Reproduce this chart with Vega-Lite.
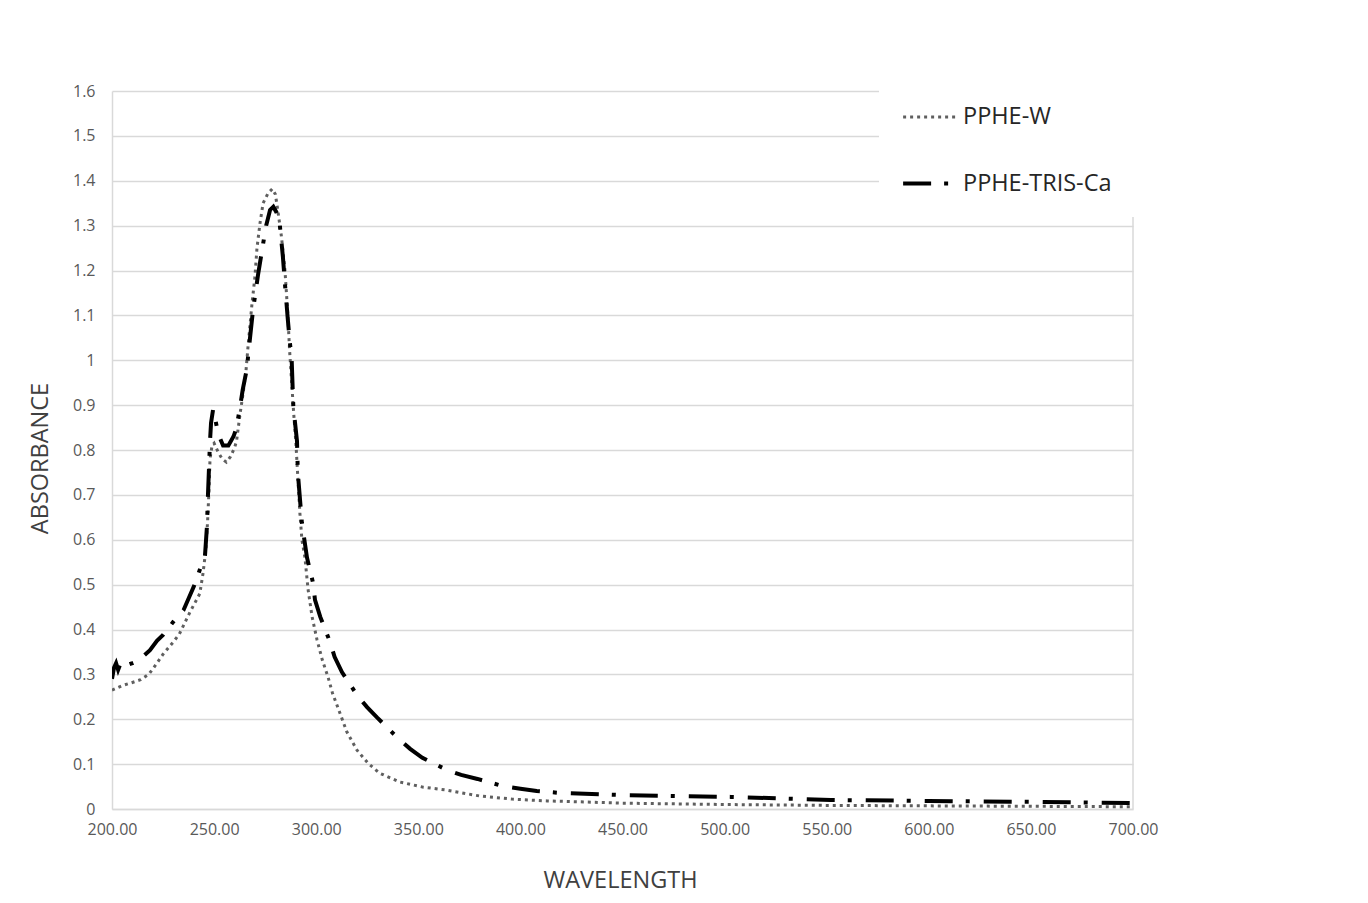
{
  "$schema": "https://vega.github.io/schema/vega-lite/v6.json",
  "width": 1021,
  "height": 718,
  "autosize": "none",
  "padding": {"left": 112, "top": 91, "right": 235, "bottom": 94},
  "background": "white",
  "config": {"font": "Open Sans", "view": {"stroke": null}},
  "datasets": {
    "spectra": [
      {"series": "PPHE-W", "wl": 200, "abs": 0.265},
      {"series": "PPHE-W", "wl": 205, "abs": 0.275},
      {"series": "PPHE-W", "wl": 210, "abs": 0.282},
      {"series": "PPHE-W", "wl": 214, "abs": 0.288},
      {"series": "PPHE-W", "wl": 218, "abs": 0.3},
      {"series": "PPHE-W", "wl": 222, "abs": 0.325},
      {"series": "PPHE-W", "wl": 225, "abs": 0.345},
      {"series": "PPHE-W", "wl": 230, "abs": 0.372},
      {"series": "PPHE-W", "wl": 233, "abs": 0.39},
      {"series": "PPHE-W", "wl": 238, "abs": 0.437},
      {"series": "PPHE-W", "wl": 243, "abs": 0.48},
      {"series": "PPHE-W", "wl": 244.6, "abs": 0.526},
      {"series": "PPHE-W", "wl": 246, "abs": 0.58},
      {"series": "PPHE-W", "wl": 246.8, "abs": 0.64},
      {"series": "PPHE-W", "wl": 247.5, "abs": 0.71},
      {"series": "PPHE-W", "wl": 248, "abs": 0.78},
      {"series": "PPHE-W", "wl": 249, "abs": 0.81},
      {"series": "PPHE-W", "wl": 250, "abs": 0.815},
      {"series": "PPHE-W", "wl": 252, "abs": 0.795},
      {"series": "PPHE-W", "wl": 254, "abs": 0.78},
      {"series": "PPHE-W", "wl": 256, "abs": 0.773},
      {"series": "PPHE-W", "wl": 258, "abs": 0.785},
      {"series": "PPHE-W", "wl": 260, "abs": 0.805},
      {"series": "PPHE-W", "wl": 261, "abs": 0.82},
      {"series": "PPHE-W", "wl": 262.7, "abs": 0.88},
      {"series": "PPHE-W", "wl": 264, "abs": 0.92},
      {"series": "PPHE-W", "wl": 265.5, "abs": 0.97},
      {"series": "PPHE-W", "wl": 266.6, "abs": 1.03},
      {"series": "PPHE-W", "wl": 268.6, "abs": 1.128},
      {"series": "PPHE-W", "wl": 270, "abs": 1.186},
      {"series": "PPHE-W", "wl": 271, "abs": 1.25},
      {"series": "PPHE-W", "wl": 272.5, "abs": 1.306},
      {"series": "PPHE-W", "wl": 274, "abs": 1.35},
      {"series": "PPHE-W", "wl": 276.4, "abs": 1.372},
      {"series": "PPHE-W", "wl": 278.5, "abs": 1.382},
      {"series": "PPHE-W", "wl": 280, "abs": 1.37},
      {"series": "PPHE-W", "wl": 281, "abs": 1.34},
      {"series": "PPHE-W", "wl": 283, "abs": 1.275},
      {"series": "PPHE-W", "wl": 284.7, "abs": 1.2},
      {"series": "PPHE-W", "wl": 286, "abs": 1.11},
      {"series": "PPHE-W", "wl": 287, "abs": 1.02},
      {"series": "PPHE-W", "wl": 288, "abs": 0.95},
      {"series": "PPHE-W", "wl": 289, "abs": 0.88},
      {"series": "PPHE-W", "wl": 290, "abs": 0.82},
      {"series": "PPHE-W", "wl": 291, "abs": 0.74},
      {"series": "PPHE-W", "wl": 292, "abs": 0.66},
      {"series": "PPHE-W", "wl": 293, "abs": 0.6},
      {"series": "PPHE-W", "wl": 294.5, "abs": 0.56},
      {"series": "PPHE-W", "wl": 296, "abs": 0.49},
      {"series": "PPHE-W", "wl": 298, "abs": 0.428},
      {"series": "PPHE-W", "wl": 300.4, "abs": 0.377},
      {"series": "PPHE-W", "wl": 303, "abs": 0.332},
      {"series": "PPHE-W", "wl": 305.8, "abs": 0.294},
      {"series": "PPHE-W", "wl": 308, "abs": 0.258},
      {"series": "PPHE-W", "wl": 311.6, "abs": 0.214},
      {"series": "PPHE-W", "wl": 315, "abs": 0.172},
      {"series": "PPHE-W", "wl": 320, "abs": 0.131},
      {"series": "PPHE-W", "wl": 325.4, "abs": 0.102},
      {"series": "PPHE-W", "wl": 331, "abs": 0.08},
      {"series": "PPHE-W", "wl": 341, "abs": 0.06},
      {"series": "PPHE-W", "wl": 352, "abs": 0.049},
      {"series": "PPHE-W", "wl": 364, "abs": 0.042},
      {"series": "PPHE-W", "wl": 380, "abs": 0.029},
      {"series": "PPHE-W", "wl": 396, "abs": 0.022},
      {"series": "PPHE-W", "wl": 413, "abs": 0.018},
      {"series": "PPHE-W", "wl": 429, "abs": 0.016},
      {"series": "PPHE-W", "wl": 450, "abs": 0.013},
      {"series": "PPHE-W", "wl": 500, "abs": 0.01},
      {"series": "PPHE-W", "wl": 550, "abs": 0.008},
      {"series": "PPHE-W", "wl": 600, "abs": 0.007},
      {"series": "PPHE-W", "wl": 650, "abs": 0.006},
      {"series": "PPHE-W", "wl": 700, "abs": 0.005},
      {"series": "PPHE-TRIS-Ca", "wl": 200, "abs": 0.29},
      {"series": "PPHE-TRIS-Ca", "wl": 201, "abs": 0.315},
      {"series": "PPHE-TRIS-Ca", "wl": 202, "abs": 0.325},
      {"series": "PPHE-TRIS-Ca", "wl": 203, "abs": 0.31},
      {"series": "PPHE-TRIS-Ca", "wl": 204, "abs": 0.322},
      {"series": "PPHE-TRIS-Ca", "wl": 205, "abs": 0.315},
      {"series": "PPHE-TRIS-Ca", "wl": 207, "abs": 0.32},
      {"series": "PPHE-TRIS-Ca", "wl": 210, "abs": 0.325},
      {"series": "PPHE-TRIS-Ca", "wl": 212.7, "abs": 0.33},
      {"series": "PPHE-TRIS-Ca", "wl": 218.6, "abs": 0.354},
      {"series": "PPHE-TRIS-Ca", "wl": 222, "abs": 0.375},
      {"series": "PPHE-TRIS-Ca", "wl": 225, "abs": 0.388},
      {"series": "PPHE-TRIS-Ca", "wl": 230, "abs": 0.417},
      {"series": "PPHE-TRIS-Ca", "wl": 235, "abs": 0.443},
      {"series": "PPHE-TRIS-Ca", "wl": 240, "abs": 0.495},
      {"series": "PPHE-TRIS-Ca", "wl": 243, "abs": 0.533},
      {"series": "PPHE-TRIS-Ca", "wl": 245.5, "abs": 0.562},
      {"series": "PPHE-TRIS-Ca", "wl": 246.5, "abs": 0.63},
      {"series": "PPHE-TRIS-Ca", "wl": 247, "abs": 0.7},
      {"series": "PPHE-TRIS-Ca", "wl": 247.5, "abs": 0.76},
      {"series": "PPHE-TRIS-Ca", "wl": 248, "abs": 0.82},
      {"series": "PPHE-TRIS-Ca", "wl": 248.5, "abs": 0.86},
      {"series": "PPHE-TRIS-Ca", "wl": 249.5, "abs": 0.89},
      {"series": "PPHE-TRIS-Ca", "wl": 250.5, "abs": 0.87},
      {"series": "PPHE-TRIS-Ca", "wl": 251.4, "abs": 0.85},
      {"series": "PPHE-TRIS-Ca", "wl": 253, "abs": 0.825},
      {"series": "PPHE-TRIS-Ca", "wl": 254.4, "abs": 0.81},
      {"series": "PPHE-TRIS-Ca", "wl": 257, "abs": 0.81},
      {"series": "PPHE-TRIS-Ca", "wl": 259.5, "abs": 0.83},
      {"series": "PPHE-TRIS-Ca", "wl": 261, "abs": 0.85},
      {"series": "PPHE-TRIS-Ca", "wl": 262.7, "abs": 0.896},
      {"series": "PPHE-TRIS-Ca", "wl": 264, "abs": 0.934},
      {"series": "PPHE-TRIS-Ca", "wl": 266, "abs": 0.98},
      {"series": "PPHE-TRIS-Ca", "wl": 267.6, "abs": 1.05},
      {"series": "PPHE-TRIS-Ca", "wl": 269, "abs": 1.11},
      {"series": "PPHE-TRIS-Ca", "wl": 271.5, "abs": 1.19},
      {"series": "PPHE-TRIS-Ca", "wl": 273.5, "abs": 1.246},
      {"series": "PPHE-TRIS-Ca", "wl": 275.5, "abs": 1.3},
      {"series": "PPHE-TRIS-Ca", "wl": 277.4, "abs": 1.335},
      {"series": "PPHE-TRIS-Ca", "wl": 279, "abs": 1.342},
      {"series": "PPHE-TRIS-Ca", "wl": 280.5, "abs": 1.33},
      {"series": "PPHE-TRIS-Ca", "wl": 282, "abs": 1.31},
      {"series": "PPHE-TRIS-Ca", "wl": 283.7, "abs": 1.23},
      {"series": "PPHE-TRIS-Ca", "wl": 284.7, "abs": 1.17},
      {"series": "PPHE-TRIS-Ca", "wl": 286, "abs": 1.096},
      {"series": "PPHE-TRIS-Ca", "wl": 287, "abs": 1.045},
      {"series": "PPHE-TRIS-Ca", "wl": 288, "abs": 1.0},
      {"series": "PPHE-TRIS-Ca", "wl": 288.8, "abs": 0.896},
      {"series": "PPHE-TRIS-Ca", "wl": 290.6, "abs": 0.82},
      {"series": "PPHE-TRIS-Ca", "wl": 291, "abs": 0.75},
      {"series": "PPHE-TRIS-Ca", "wl": 293, "abs": 0.637},
      {"series": "PPHE-TRIS-Ca", "wl": 295.5, "abs": 0.56},
      {"series": "PPHE-TRIS-Ca", "wl": 298.5, "abs": 0.503},
      {"series": "PPHE-TRIS-Ca", "wl": 299.4, "abs": 0.466},
      {"series": "PPHE-TRIS-Ca", "wl": 302, "abs": 0.428},
      {"series": "PPHE-TRIS-Ca", "wl": 306.8, "abs": 0.372},
      {"series": "PPHE-TRIS-Ca", "wl": 309, "abs": 0.339},
      {"series": "PPHE-TRIS-Ca", "wl": 312.6, "abs": 0.305},
      {"series": "PPHE-TRIS-Ca", "wl": 320, "abs": 0.254},
      {"series": "PPHE-TRIS-Ca", "wl": 324.9, "abs": 0.227},
      {"series": "PPHE-TRIS-Ca", "wl": 330, "abs": 0.203},
      {"series": "PPHE-TRIS-Ca", "wl": 340, "abs": 0.158},
      {"series": "PPHE-TRIS-Ca", "wl": 346, "abs": 0.134},
      {"series": "PPHE-TRIS-Ca", "wl": 352, "abs": 0.114},
      {"series": "PPHE-TRIS-Ca", "wl": 364, "abs": 0.087},
      {"series": "PPHE-TRIS-Ca", "wl": 371, "abs": 0.076},
      {"series": "PPHE-TRIS-Ca", "wl": 379, "abs": 0.067},
      {"series": "PPHE-TRIS-Ca", "wl": 391.5, "abs": 0.051},
      {"series": "PPHE-TRIS-Ca", "wl": 400, "abs": 0.045},
      {"series": "PPHE-TRIS-Ca", "wl": 408, "abs": 0.04},
      {"series": "PPHE-TRIS-Ca", "wl": 419, "abs": 0.036},
      {"series": "PPHE-TRIS-Ca", "wl": 450, "abs": 0.031},
      {"series": "PPHE-TRIS-Ca", "wl": 503, "abs": 0.027},
      {"series": "PPHE-TRIS-Ca", "wl": 552, "abs": 0.02},
      {"series": "PPHE-TRIS-Ca", "wl": 600, "abs": 0.018},
      {"series": "PPHE-TRIS-Ca", "wl": 650, "abs": 0.016},
      {"series": "PPHE-TRIS-Ca", "wl": 700, "abs": 0.013}
    ],
    "edge": [{"wl": 700}]
  },
  "layer": [
    {
      "data": {"name": "edge"},
      "mark": {"type": "rule", "color": "#d9d9d9", "strokeWidth": 1.5},
      "encoding": {
        "x": {"field": "wl", "type": "quantitative", "scale": {"domain": [200, 700], "nice": false, "zero": false}}
      }
    },
    {
      "data": {"name": "spectra"},
      "mark": {"type": "line", "clip": true},
      "encoding": {
        "x": {
          "field": "wl", "type": "quantitative",
          "scale": {"domain": [200, 700], "nice": false, "zero": false},
          "axis": {
            "values": [200, 250, 300, 350, 400, 450, 500, 550, 600, 650, 700],
            "format": ".2f", "title": "WAVELENGTH", "grid": false, "ticks": false,
            "domainColor": "#d9d9d9", "domainWidth": 1.5,
            "labelFontSize": 16, "labelColor": "#595959", "labelPadding": 12, "labelFlush": false,
            "titleFontSize": 23.5, "titleColor": "#404040", "titleFontWeight": "normal",
            "titleX": 508, "titleY": 71, "titleBaseline": "middle", "titleAlign": "center"
          }
        },
        "y": {
          "field": "abs", "type": "quantitative",
          "scale": {"domain": [0, 1.6], "nice": false},
          "axis": {
            "values": [0, 0.1, 0.2, 0.3, 0.4, 0.5, 0.6, 0.7, 0.8, 0.9, 1, 1.1, 1.2, 1.3, 1.4, 1.5, 1.6],
            "format": ".1~f", "title": "ABSORBANCE", "grid": true, "gridColor": "#d9d9d9", "gridWidth": 1.5,
            "ticks": false, "domainColor": "#d9d9d9", "domainWidth": 1.5,
            "labelFontSize": 16, "labelColor": "#595959", "labelPadding": 17,
            "titleFontSize": 23.5, "titleColor": "#404040", "titleFontWeight": "normal",
            "titleX": -72, "titleY": 367, "titleBaseline": "middle", "titleAlign": "center", "titleAngle": -90
          }
        },
        "stroke": {
          "field": "series", "type": "nominal",
          "scale": {"domain": ["PPHE-W", "PPHE-TRIS-Ca"], "range": ["#5f5f5f", "#000000"]},
          "legend": {"title": null, "orient": "none", "legendX": 767, "legendY": -25, "padding": 22, "fillColor": "white", "symbolType": "stroke", "symbolSize": 3000, "labelFontSize": 23.5, "labelColor": "#262626", "labelOffset": 3, "rowPadding": 25}
        },
        "strokeDash": {
          "field": "series", "type": "nominal",
          "scale": {"domain": ["PPHE-W", "PPHE-TRIS-Ca"], "range": [[3, 4], [28, 13, 4, 14]]},
          "legend": {"title": null, "orient": "none", "legendX": 767, "legendY": -25, "padding": 22, "fillColor": "white", "symbolType": "stroke", "symbolSize": 3000, "labelFontSize": 23.5, "labelColor": "#262626", "labelOffset": 3, "rowPadding": 25}
        },
        "strokeWidth": {
          "field": "series", "type": "nominal",
          "scale": {"domain": ["PPHE-W", "PPHE-TRIS-Ca"], "range": [3, 4]},
          "legend": {"title": null, "orient": "none", "legendX": 767, "legendY": -25, "padding": 22, "fillColor": "white", "symbolType": "stroke", "symbolSize": 3000, "labelFontSize": 23.5, "labelColor": "#262626", "labelOffset": 3, "rowPadding": 25}
        }
      }
    }
  ]
}
